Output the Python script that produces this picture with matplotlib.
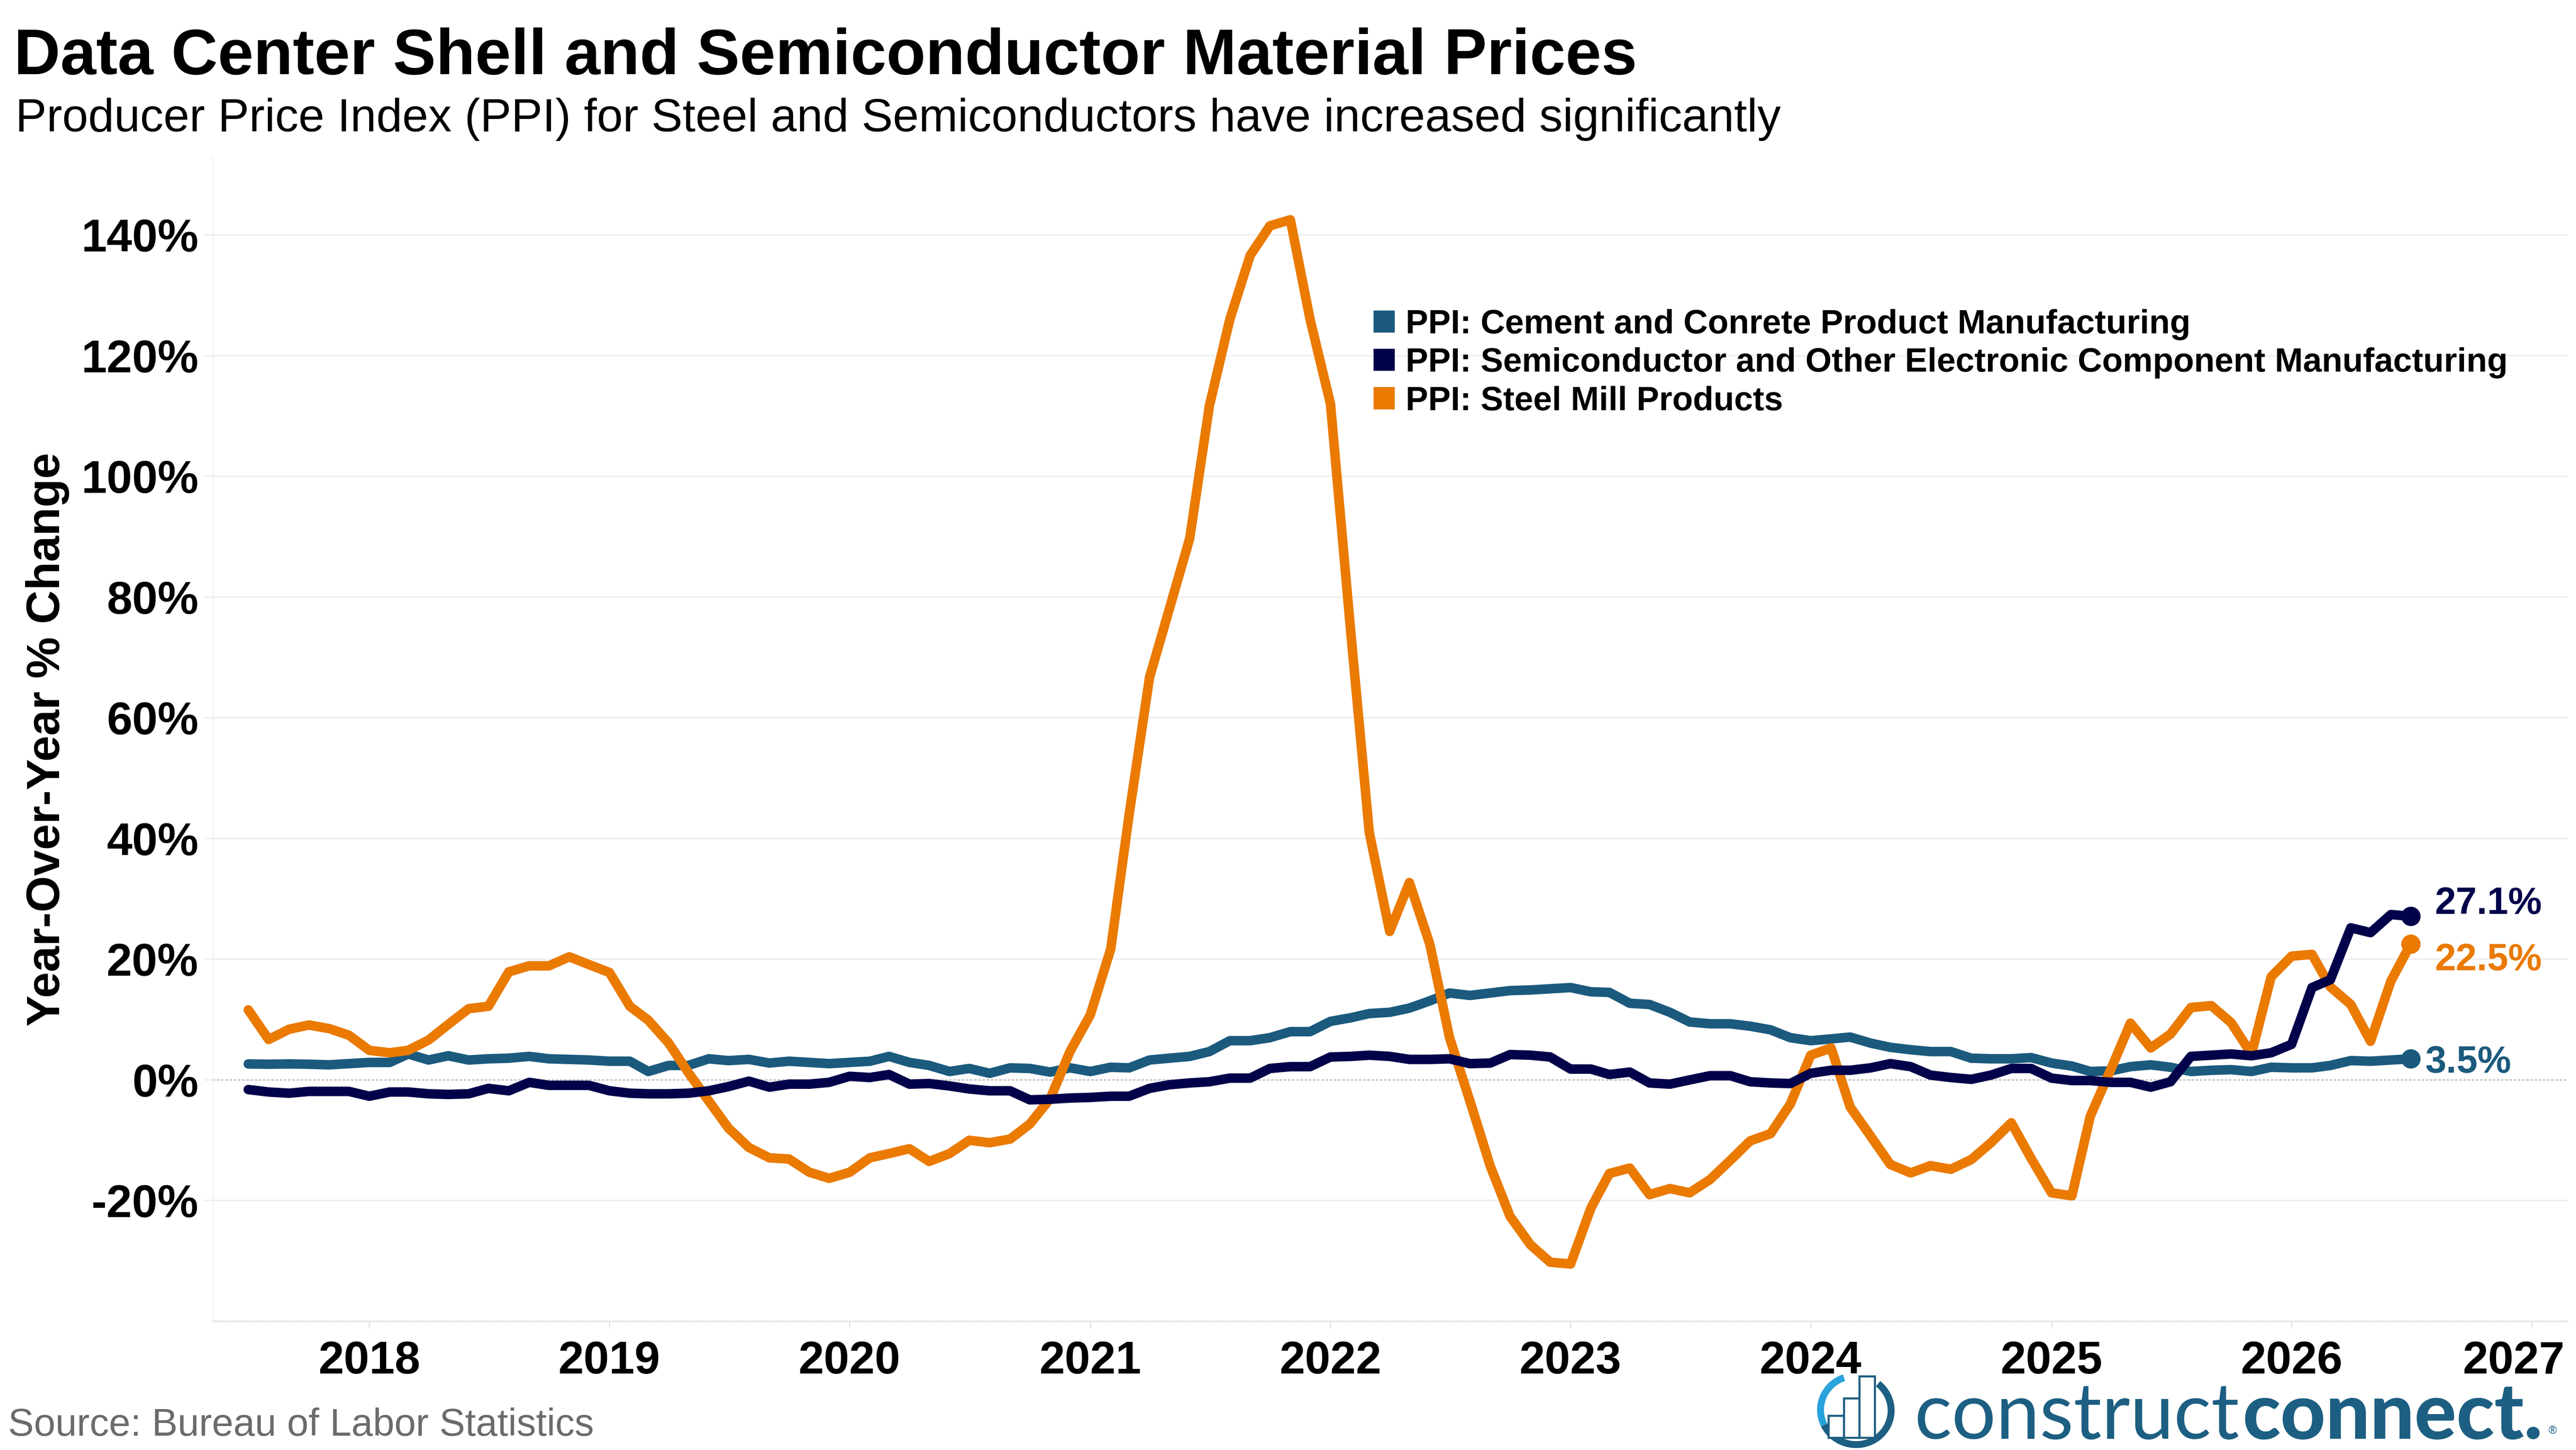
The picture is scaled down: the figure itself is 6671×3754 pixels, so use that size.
import matplotlib

matplotlib.use("Agg")
import matplotlib.dates as mdates
import matplotlib.pyplot as plt
import pandas as pd
from matplotlib.patches import Arc, Patch, Rectangle
from matplotlib.ticker import FuncFormatter
from matplotlib.transforms import IdentityTransform, ScaledTranslation

W, H, DPI = 6671, 3754, 300

# monthly year-over-year % change, Jul 2017 .. Jul 2026
months = pd.date_range("2017-07-01", "2026-07-01", freq="MS")

cement = [
    2.65, 2.6, 2.65, 2.6, 2.5, 2.7, 2.9, 2.9, 4.3, 3.3, 4.0, 3.3,
    3.5, 3.6, 3.9, 3.5, 3.4, 3.3, 3.1, 3.1, 1.4, 2.4, 2.4, 3.5,
    3.2, 3.4, 2.8, 3.1, 2.9, 2.7, 2.9, 3.1, 3.9, 2.9, 2.4, 1.4,
    1.9, 1.1, 2.0, 1.9, 1.3, 2.0, 1.4, 2.1, 2.0, 3.3, 3.6, 3.9,
    4.7, 6.5, 6.5, 7.0, 8.0, 8.0, 9.7, 10.3, 11.0, 11.2, 11.9, 13.1,
    14.4, 14.0, 14.4, 14.8, 14.9, 15.1, 15.3, 14.6, 14.5, 12.7, 12.5, 11.2,
    9.6, 9.3, 9.3, 8.9, 8.3, 7.0, 6.5, 6.8, 7.1, 6.1, 5.4, 5.0,
    4.7, 4.7, 3.6, 3.5, 3.5, 3.7, 2.8, 2.3, 1.4, 1.5, 2.2, 2.5,
    2.1, 1.4, 1.6, 1.7, 1.4, 2.1, 2.0, 2.0, 2.4, 3.2, 3.1, 3.3,
    3.5,
]

semi = [
    -1.6, -2.0, -2.2, -1.9, -1.9, -1.9, -2.7, -2.0, -2.0, -2.3, -2.4, -2.3,
    -1.4, -1.8, -0.4, -0.9, -0.9, -0.9, -1.8, -2.2, -2.3, -2.3, -2.2, -1.8,
    -1.1, -0.2, -1.2, -0.7, -0.7, -0.4, 0.6, 0.4, 0.9, -0.7, -0.6, -1.0,
    -1.5, -1.8, -1.8, -3.3, -3.2, -3.0, -2.9, -2.7, -2.7, -1.4, -0.8, -0.5,
    -0.3, 0.3, 0.3, 1.9, 2.2, 2.2, 3.8, 3.9, 4.1, 3.9, 3.4, 3.4,
    3.5, 2.7, 2.8, 4.2, 4.1, 3.8, 1.8, 1.8, 0.9, 1.3, -0.5, -0.7,
    0.0, 0.7, 0.7, -0.3, -0.5, -0.6, 1.1, 1.6, 1.6, 2.0, 2.7, 2.2,
    0.8, 0.4, 0.1, 0.8, 1.9, 1.9, 0.3, -0.1, -0.1, -0.4, -0.4, -1.2,
    -0.3, 3.9, 4.1, 4.3, 4.0, 4.5, 5.9, 15.3, 16.6, 25.2, 24.4, 27.4,
    27.1,
]

steel = [
    11.6, 6.7, 8.4, 9.1, 8.5, 7.4, 4.9, 4.5, 4.9, 6.6, 9.2, 11.8,
    12.2, 17.9, 18.9, 18.9, 20.4, 19.1, 17.8, 12.2, 9.9, 6.1, 1.2, -3.5,
    -8.0, -11.2, -12.9, -13.1, -15.3, -16.3, -15.3, -12.9, -12.2, -11.4, -13.5, -12.2,
    -10.0, -10.4, -9.8, -7.3, -3.1, 4.7, 10.8, 21.7, 44.0, 66.7, 78.0, 89.7,
    111.7, 126.0, 136.6, 141.5, 142.5, 126.0, 112.0, 74.0, 41.0, 24.6, 32.7, 22.5,
    7.0, -3.5, -14.3, -22.6, -27.3, -30.2, -30.5, -21.2, -15.5, -14.6, -19.0, -18.0,
    -18.7, -16.5, -13.3, -10.1, -8.9, -4.0, 4.1, 5.3, -4.5, -9.3, -14.0, -15.4,
    -14.2, -14.8, -13.2, -10.4, -7.1, -13.0, -18.7, -19.2, -6.0, 1.7, 9.4, 5.3,
    7.6, 12.0, 12.3, 9.5, 4.3, 17.1, 20.5, 20.8, 15.4, 12.5, 6.4, 16.4,
    22.5,
]

series_names = [
    "PPI: Cement and Conrete Product Manufacturing",
    "PPI: Semiconductor and Other Electronic Component Manufacturing",
    "PPI: Steel Mill Products",
]
y_ticks = [-20, 0, 20, 40, 60, 80, 100, 120, 140]

TEAL = "#1b5a7d"
NAVY = "#02024a"
ORANGE = "#ea7a00"
GRID = "#efefef"
LOGO = "#1d5f82"

plt.rcParams["font.family"] = ["Liberation Sans", "DejaVu Sans"]
plt.rcParams["font.weight"] = "bold"


def fx(px):
    return px / W


def fy(py):
    return 1 - py / H


fig = plt.figure(figsize=(W / DPI, H / DPI), dpi=DPI)
ax = fig.add_axes([fx(551), fy(3421), fx(6650) - fx(551), fy(408) - fy(3421)])

ax.set_ylim(-40, 152.8)
ax.set_xlim(pd.Timestamp("2017-05-08"), pd.Timestamp("2027-02-25"))

for side in ("top", "right"):
    ax.spines[side].set_visible(False)
ax.spines["left"].set_color(GRID)
ax.spines["left"].set_linewidth(0.6)
ax.spines["bottom"].set_color("#e8e8e8")
ax.spines["bottom"].set_linewidth(1.0)

for v in y_ticks:
    if v == 0:
        ax.axhline(v, color="#c8c8c8", lw=1.0, ls=(0, (1.6, 1.0)), zorder=1)
    else:
        ax.axhline(v, color=GRID, lw=1.0, zorder=0.5)

lines = [(cement, TEAL, 3), (semi, NAVY, 4), (steel, ORANGE, 3.5)]
for values, color, z in lines:
    ax.plot(months, values, color=color, lw=5.9, solid_capstyle="round",
            solid_joinstyle="round", zorder=z)
    ax.plot(months[-1], values[-1], "o", ms=11, color=color, zorder=z)

# end-of-line value labels (offsets in points)
label_offsets = [(cement, TEAL, (9.2, -8.6)), (semi, NAVY, (15, 1.5)), (steel, ORANGE, (15, -16.3))]
for values, color, off in label_offsets:
    ax.annotate(f"{values[-1]:.1f}%", xy=(months[-1], values[-1]), xytext=off,
                textcoords="offset points", ha="left", va="baseline",
                fontsize=23.5, color=color, annotation_clip=False)

ax.set_yticks(y_ticks)
ax.yaxis.set_major_formatter(FuncFormatter(lambda v, p: f"{v:.0f}%"))
ax.tick_params(axis="y", length=5.3, width=1.0, color=GRID, pad=3.6, labelsize=28.5)

ax.xaxis.set_major_locator(mdates.YearLocator())
ax.xaxis.set_major_formatter(mdates.DateFormatter("%Y"))
ax.xaxis.set_minor_locator(mdates.MonthLocator())
ax.tick_params(axis="x", which="major", length=4.2, width=0.6, color="#dddddd",
               pad=7.5, labelsize=28.5)
ax.tick_params(axis="x", which="minor", length=1.0, width=0.5, color="#dddddd")
xlabels = ax.get_xticklabels()
xlabels[-1].set_transform(xlabels[-1].get_transform()
                          + ScaledTranslation(-46 / DPI, 0, fig.dpi_scale_trans))

handles = [Patch(facecolor=c, edgecolor="none") for c in (TEAL, NAVY, ORANGE)]
fig.legend(handles, series_names, loc="upper left", bbox_to_anchor=(fx(3557), fy(800)),
           frameon=False, prop={"weight": "bold", "size": 21}, handlelength=0.63,
           handleheight=0.63, handletextpad=0.32, labelspacing=0.21,
           borderpad=0, borderaxespad=0)

fig.text(fx(123), fy(1914), "Year-Over-Year % Change", rotation=90, ha="center",
         va="center", fontsize=29)
fig.text(fx(36), fy(192), "Data Center Shell and Semiconductor Material Prices",
         fontsize=40, va="baseline")
fig.text(fx(40), fy(340),
         "Producer Price Index (PPI) for Steel and Semiconductors have increased significantly",
         fontsize=29, weight="normal", va="baseline")
fig.text(fx(21), fy(3717), "Source: Bureau of Labor Statistics", fontsize=24,
         weight="normal", color="#6b6b6b", va="baseline")

# logo: icon + wordmark, laid out in pixel coordinates
px = IdentityTransform()
fig.add_artist(Arc((4806, H - 3651), 183, 178, angle=-10, theta1=215, theta2=420,
                   lw=4.3, color=LOGO, transform=px))
fig.add_artist(Arc((4806, H - 3651), 183, 178, angle=-10, theta1=120, theta2=215,
                   lw=4.3, color="#29a3dc", transform=px))
for x0, ytop in ((4735, 3665), (4775, 3620), (4815, 3563)):
    fig.add_artist(Rectangle((x0, H - 3722), 40, 3722 - ytop, facecolor="white",
                             edgecolor=LOGO, lw=1.3, transform=px))

renderer = fig.canvas.get_renderer()
logo_font = ["Lato", "DejaVu Sans"]
fs = 40
t1 = fig.text(4958, H - 3725, "construct", transform=px, fontsize=fs, family=logo_font,
              weight="normal", color=LOGO, va="baseline")
t2 = fig.text(5800, H - 3725, "connect.", transform=px, fontsize=fs, family=logo_font,
              weight="black", color=LOGO, va="baseline")
w_total = t1.get_window_extent(renderer).width + t2.get_window_extent(renderer).width
fs = fs * 1620 / w_total
t1.set_fontsize(fs)
t2.set_fontsize(fs)
t2.set_x(4958 + t1.get_window_extent(renderer).width + 8)
fig.text(6600, H - 3712, "\u00ae", transform=px, fontsize=7, weight="normal",
         color=LOGO, va="baseline")

fig.savefig("out.png", dpi=DPI)
